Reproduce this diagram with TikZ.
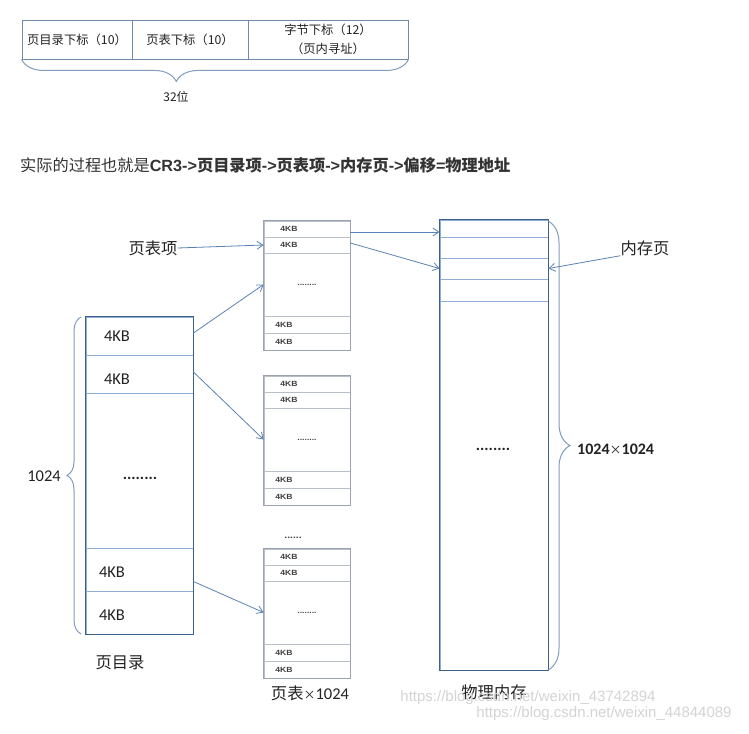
\documentclass[tikz,border=0pt]{standalone}
\usepackage{fontspec}
\setmainfont{Noto Sans CJK SC}
\newfontfamily\lat{Carlito}
\newfontfamily\ari{Liberation Sans}
\usetikzlibrary{arrows.meta,decorations.pathreplacing,calc}
\definecolor{boxc}{HTML}{3E5F8A}
\definecolor{divc}{HTML}{8EAED3}
\definecolor{arrc}{HTML}{5A82B4}
\definecolor{tabc}{HTML}{9AA3AE}
\definecolor{topc}{HTML}{6F8AAD}
\definecolor{txt}{HTML}{222222}
\definecolor{wm}{HTML}{D4D4D4}
\tikzset{
  pdcell/.style={draw=divc, line width=0.9pt, minimum width=107pt, inner sep=0pt},
  tcell/.style={draw=tabc!70, line width=0.8pt, minimum width=86pt, inner sep=0pt},
  mcell/.style={draw=divc, line width=0.9pt, minimum width=108pt, inner sep=0pt},
  topcell/.style={draw=topc, line width=0.9pt, minimum height=39pt, inner sep=0pt, font=\fontsize{12.3}{19}\selectfont, text=txt},
  bigkb/.style={font=\lat\fontsize{16.5}{18}\selectfont, text=txt, inner sep=0pt},
  smallkb/.style={font=\ari\bfseries\fontsize{7.5}{9}\selectfont, text=black!75, inner sep=0pt, xscale=1.15},
  lbl/.style={font=\fontsize{16.3}{18}\selectfont, text=txt, inner sep=0pt},
  conn/.style={draw=arrc, line width=0.8pt, -{Straight Barb[length=6pt,width=8pt]}},
  bracec/.style={draw=divc!90!black, line width=1pt, decorate},
  wmark/.style={font=\ari\fontsize{15}{18}\selectfont, text=wm, inner sep=0pt}
}
\newcommand\ptab[2]{%
  \node[tcell, minimum height=16pt] (#1a) at (307,#2+8) {};
  \node[tcell, minimum height=16pt] (#1b) at (307,#2+24) {};
  \node[tcell, minimum height=63pt] (#1m) at (307,#2+63.5) {};
  \node[tcell, minimum height=17pt] (#1c) at (307,#2+103.5) {};
  \node[tcell, minimum height=17pt] (#1d) at (307,#2+120.5) {};
  \draw[tabc, line width=1pt] (#1a.north west) rectangle (#1d.south east);
  \node[smallkb] (#1ta) at (289,#2+8) {4KB};
  \node[smallkb] (#1tb) at (289,#2+24) {4KB};
  \node[smallkb] (#1tm) at (307,#2+63.5) {\textbf{........}};
  \node[smallkb] (#1tc) at (284,#2+103.5) {4KB};
  \node[smallkb] (#1td) at (284,#2+120.5) {4KB};
}
\begin{document}
\begin{tikzpicture}[x=1pt,y=-1pt]
\useasboundingbox[fill=white] (0,0) rectangle (749,733);

% top address layout
\node[topcell, minimum width=110pt] (ta) at (77,39.5) {页目录下标（10）};
\node[topcell, minimum width=116pt] (tb) at (190,39.5) {页表下标（10）};
\node[topcell, minimum width=160pt, align=center] (tc) at (328,39.5) {字节下标（12）\\（页内寻址）};
\draw[bracec, decoration={brace, amplitude=22pt, aspect=0.4, mirror}] (ta.south west) -- (tc.south east);
\node[lbl, font=\fontsize{12}{14}\selectfont] (bits) at (176,97) {32位};

% sentence
\node[anchor=west, inner sep=0pt, text=black!80, font=\fontsize{16.2}{18}\selectfont] (sent) at (20,165)
  {实际的过程也就是\textbf{{\ari CR3-{}>}页目录项{\ari -{}>}页表项{\ari -{}>}内存页{\ari -{}>}偏移{\ari =}物理地址}};

% page directory
\node[pdcell, minimum height=38pt] (pd1) at (139.5,336) {};
\node[pdcell, minimum height=38pt] (pd2) at (139.5,374) {};
\node[pdcell, minimum height=155pt] (pdm) at (139.5,470.5) {};
\node[pdcell, minimum height=43pt] (pd3) at (139.5,569.5) {};
\node[pdcell, minimum height=43pt] (pd4) at (139.5,612.5) {};
\draw[boxc, line width=1.8pt] (pd1.north west) rectangle (pd4.south east);
\node[bigkb] (k1) at (117,336) {4KB};
\node[bigkb] (k2) at (117,379) {4KB};
\node[bigkb, font=\lat\bfseries\fontsize{16}{18}\selectfont] (kd) at (140,478) {........};
\node[bigkb] (k3) at (112,572) {4KB};
\node[bigkb] (k4) at (112,615) {4KB};
\draw[bracec, decoration={brace, amplitude=14pt}] (81,634) -- (81,317);
\node[bigkb] (n1024) at (44,476) {1024};
\node[lbl] (pdl) at (120,663) {页目录};

% page tables
\ptab{ta1}{221}
\ptab{tb1}{376}
\ptab{tc1}{549}
\node[smallkb, font=\ari\bfseries\fontsize{9}{10}\selectfont] (tdots) at (293,538) {......};
\node[lbl] (ptl) at (310,693) {页表{\fontsize{12}{14}\selectfont ×}{\lat\fontsize{16.5}{18}\selectfont 1024}};

% physical memory
\node[mcell, minimum height=17pt] (m1) at (494,228.5) {};
\node[mcell, minimum height=21pt] (m2) at (494,247.5) {};
\node[mcell, minimum height=21pt] (m3) at (494,268.5) {};
\node[mcell, minimum height=22pt] (m4) at (494,290) {};
\node[mcell, minimum height=369pt] (m5) at (494,485.5) {};
\draw[boxc, line width=1.8pt] (m1.north west) rectangle (m5.south east);
\node[bigkb, font=\lat\bfseries\fontsize{16}{18}\selectfont] (mdots) at (493,449) {........};
\draw[bracec, decoration={brace, amplitude=22pt}] (548,221) -- (548,670);
\node[bigkb, anchor=west, font=\lat\bfseries\fontsize{16}{18}\selectfont] (nn) at (577,449) {1024{\rmfamily\mdseries\fontsize{12}{14}\selectfont ×}1024};
\node[lbl] (mel) at (494,692) {物理内存};

% labels with arrows
\node[lbl] (pte) at (153,248) {页表项};
\node[lbl] (mp) at (645,248) {内存页};

% connectors
\draw[conn] (pte.east) -- (ta1b.west);
\draw[conn] (mp.south west) -- (m3.east);
\draw[conn] ($(pd1.east)+(0,-3)$) -- (ta1m.west);
\draw[conn] ($(pd2.east)+(0,-2)$) -- (tb1m.west);
\draw[conn] ($(pd3.east)+(0,12)$) -- (tc1m.west);
\draw[conn] ($(ta1a.east)+(0,3)$) -- ($(m1.west)+(0,3.5)$);
\draw[conn] ($(ta1b.east)+(0,-2)$) -- (m3.west);

% watermark
\node[wmark] (w1) at (528,698) {https://blog.csdn.net/weixin\_43742894};
\node[wmark] (w2) at (604,714) {https://blog.csdn.net/weixin\_44844089};
\end{tikzpicture}
\end{document}
